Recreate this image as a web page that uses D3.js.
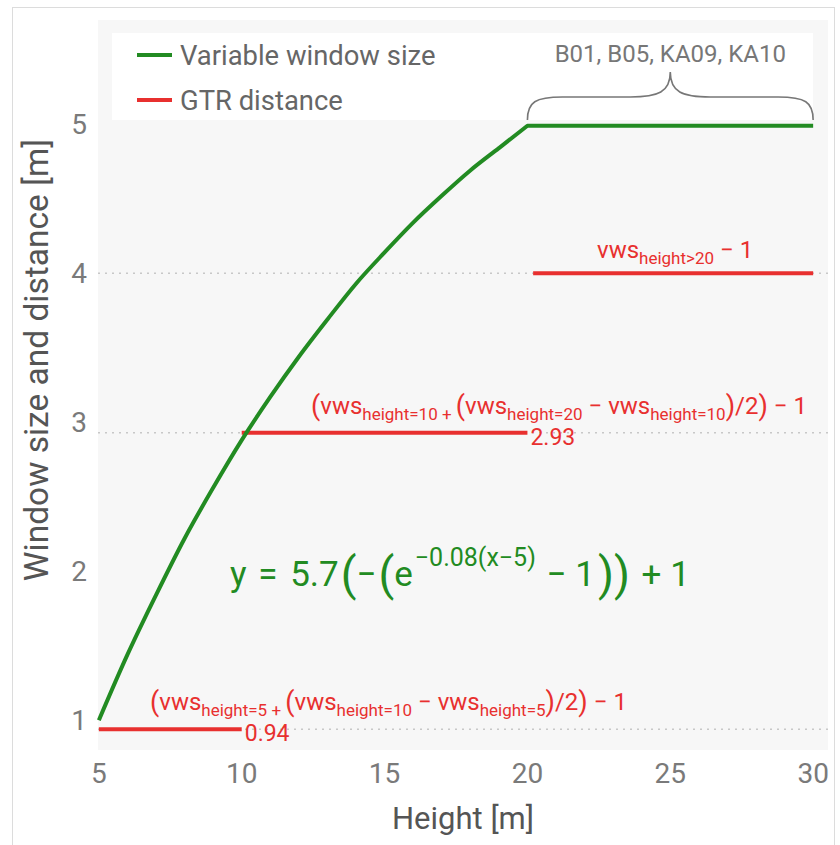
<!DOCTYPE html>
<html>
<head>
<meta charset="utf-8">
<script src="https://cdn.jsdelivr.net/npm/d3@7"></script>
<style>
  body { margin: 0; background: #fff; }
  text { font-family: Roboto, "Liberation Sans", sans-serif; }
</style>
</head>
<body>
<div id="canvas"></div>
<script>
// Variable window size curve
const heights = [5, 6, 7, 8, 9, 10, 11, 12, 13, 14, 15, 16, 17, 18, 19, 20];
const windowSizes = [1.0, 1.44, 1.84, 2.22, 2.56, 2.88, 3.17, 3.44, 3.69, 3.93, 4.14, 4.34, 4.52, 4.69, 4.84, 4.99];
// flat part of the window size
const flatHeights = [20, 30];
const flatSizes = [4.99, 4.99];

// GTR distance segments
const gtrStart = [5, 10, 20.2];
const gtrEnd = [10, 20, 30];
const gtrDistance = [0.94, 2.93, 4];
const gtrValueLabels = ["0.94", "2.93", ""];

const xTicks = [5, 10, 15, 20, 25, 30];
const yTicks = [1, 2, 3, 4, 5];

const legendLabels = ["Variable window size", "GTR distance"];
const braceLabel = "B01, B05, KA09, KA10";
const braceRange = [20, 30];

const green = "#228b22";
const red = "#e8302f";

const dims = { width: 840, height: 845 };
const panel = { left: 98, right: 828, top: 20, bottom: 750 };

const svg = d3
  .select("#canvas")
  .append("svg")
  .attr("width", dims.width)
  .attr("height", dims.height);

// outer frame
svg
  .append("rect")
  .attr("x", 12.5)
  .attr("y", 7.5)
  .attr("width", 822)
  .attr("height", 860)
  .attr("fill", "#fff")
  .attr("stroke", "#dcdcdc");

const xScale = d3.scaleLinear().domain([4.97, 30.52]).range([panel.left, panel.right]);
const yScale = d3.scaleLinear().domain([0.8, 5.7]).range([panel.bottom, panel.top]);

// panel background
svg
  .append("rect")
  .attr("x", panel.left)
  .attr("y", panel.top)
  .attr("width", panel.right - panel.left)
  .attr("height", panel.bottom - panel.top)
  .attr("fill", "#f7f7f7");

// legend box
svg
  .append("rect")
  .attr("x", 112)
  .attr("y", 33)
  .attr("width", 701)
  .attr("height", 87)
  .attr("fill", "#fff");

// dotted guides at the GTR levels
svg
  .append("g")
  .selectAll("line")
  .data(gtrDistance)
  .enter()
  .append("line")
  .attr("x1", panel.left)
  .attr("x2", panel.right)
  .attr("y1", d => yScale(d))
  .attr("y2", d => yScale(d))
  .attr("stroke", "#c8c8c8")
  .attr("stroke-width", 1.5)
  .attr("stroke-dasharray", "2,5");

// red segments
svg
  .append("g")
  .selectAll("line")
  .data(gtrDistance)
  .enter()
  .append("line")
  .attr("x1", (d, i) => xScale(gtrStart[i]))
  .attr("x2", (d, i) => xScale(gtrEnd[i]))
  .attr("y1", d => yScale(d))
  .attr("y2", d => yScale(d))
  .attr("stroke", red)
  .attr("stroke-width", 4);

// green curve
const lineGen = d3
  .line()
  .x(d => xScale(d[0]))
  .y(d => yScale(d[1]))
  .curve(d3.curveMonotoneX);

const curvePath =
  lineGen(heights.map((h, i) => [h, windowSizes[i]])) +
  d3.line().x(d => xScale(d[0])).y(d => yScale(d[1]))(flatHeights.map((h, i) => [h, flatSizes[i]])).replace("M", "L");

svg
  .append("path")
  .attr("d", curvePath)
  .attr("fill", "none")
  .attr("stroke", green)
  .attr("stroke-width", 4)
  .attr("stroke-linejoin", "round");

// value labels next to segments
svg
  .append("g")
  .selectAll("text")
  .data(gtrDistance)
  .enter()
  .append("text")
  .attr("x", (d, i) => xScale(gtrEnd[i]) + 3)
  .attr("y", d => yScale(d) + 12)
  .attr("font-size", 23)
  .attr("fill", red)
  .text((d, i) => gtrValueLabels[i]);

// axes tick labels
svg
  .append("g")
  .selectAll("text")
  .data(xTicks)
  .enter()
  .append("text")
  .attr("x", d => xScale(d))
  .attr("y", 783)
  .attr("text-anchor", "middle")
  .attr("font-size", 28)
  .attr("fill", "#7a7a7a")
  .text(d => d);

svg
  .append("g")
  .selectAll("text")
  .data(yTicks)
  .enter()
  .append("text")
  .attr("x", 87)
  .attr("y", d => yScale(d) + 10)
  .attr("text-anchor", "end")
  .attr("font-size", 28)
  .attr("fill", "#7a7a7a")
  .text(d => d);

// axis titles
svg
  .append("text")
  .attr("x", 463)
  .attr("y", 829)
  .attr("text-anchor", "middle")
  .attr("font-size", 31)
  .attr("fill", "#555")
  .text("Height [m]");

svg
  .append("text")
  .attr("transform", "translate(48, 360) rotate(-90)")
  .attr("text-anchor", "middle")
  .attr("font-size", 33.5)
  .attr("fill", "#555")
  .text("Window size and distance [m]");

// legend
const legendGroup = svg.append("g").attr("transform", "translate(137, 55)");
legendGroup
  .selectAll("line")
  .data(legendLabels)
  .enter()
  .append("line")
  .attr("x1", 0)
  .attr("x2", 35)
  .attr("y1", (d, i) => i * 45)
  .attr("y2", (d, i) => i * 45)
  .attr("stroke", (d, i) => [green, red][i])
  .attr("stroke-width", 4);
legendGroup
  .selectAll("text")
  .data(legendLabels)
  .enter()
  .append("text")
  .attr("x", 43)
  .attr("y", (d, i) => i * 45 + 10)
  .attr("font-size", 27.4)
  .attr("fill", "#666")
  .text(d => d);

// brace over the flat part
const bx0 = xScale(braceRange[0]);
const bx1 = xScale(braceRange[1]);
const bc = (bx0 + bx1) / 2;
svg
  .append("path")
  .attr(
    "d",
    `M${bx0},120 C${bx0},102 ${bx0 + 8},97 ${bx0 + 35},97 L${bc - 40},97 ` +
      `C${bc - 12},97 ${bc},92 ${bc},72 C${bc},92 ${bc + 12},97 ${bc + 40},97 ` +
      `L${bx1 - 35},97 C${bx1 - 8},97 ${bx1},102 ${bx1},120`
  )
  .attr("fill", "none")
  .attr("stroke", "#777")
  .attr("stroke-width", 1.6);
svg
  .append("text")
  .attr("x", bc)
  .attr("y", 62)
  .attr("text-anchor", "middle")
  .attr("font-size", 24)
  .attr("fill", "#777")
  .text(braceLabel);

// formulas: tokens are [text, kind, extra dx]
const drawFormula = (tokens, sizes, x, y, color) => {
  const t = svg
    .append("text")
    .attr("x", x)
    .attr("y", y)
    .attr("fill", color)
    .style("white-space", "pre");
  let shift = 0;
  tokens.forEach(([str, kind, dx]) => {
    const s = sizes[kind];
    t.append("tspan")
      .attr("dx", dx || 0)
      .attr("dy", s.shift - shift)
      .attr("font-size", s.size)
      .text(str);
    shift = s.shift;
  });
  return t;
};

const redSizes = {
  m: { size: 24, shift: 0 },
  s: { size: 17, shift: 6 },
  p: { size: 27, shift: 1 }
};

drawFormula(
  [["(", "p"], ["vws", "m"], ["height=5", "s"], [" + ", "s"], ["(", "p"], ["vws", "m"], ["height=10", "s"],
   [" − ", "m"], ["vws", "m"], ["height=5", "s"], [")", "p"], ["/2", "m"], [")", "p"], [" − 1", "m"]],
  redSizes, 150, yScale(gtrDistance[0]) - 19, red
);
drawFormula(
  [["(", "p"], ["vws", "m"], ["height=10", "s"], [" + ", "s"], ["(", "p"], ["vws", "m"], ["height=20", "s"],
   [" − ", "m"], ["vws", "m"], ["height=10", "s"], [")", "p"], ["/2", "m"], [")", "p"], [" − 1", "m"]],
  redSizes, 311, yScale(gtrDistance[1]) - 19, red
);
drawFormula(
  [["vws", "m"], ["height>20", "s"], [" − 1", "m"]],
  redSizes, 597, yScale(gtrDistance[2]) - 15, red
);

const greenSizes = {
  m: { size: 35, shift: 0 },
  sup: { size: 25, shift: -20 },
  b: { size: 46, shift: 4 }
};
drawFormula(
  [["y", "m"], [" = ", "m", 3], ["5.7", "m", 4], ["(", "b", 2], ["−", "m"], ["(", "b", 2], ["e", "m"],
   ["−0.08(x−5)", "sup", 2], [" − 1", "m", 2], ["))", "b", 3], [" + 1", "m", 3]],
  greenSizes, 230, 586, green
);
</script>
</body>
</html>
